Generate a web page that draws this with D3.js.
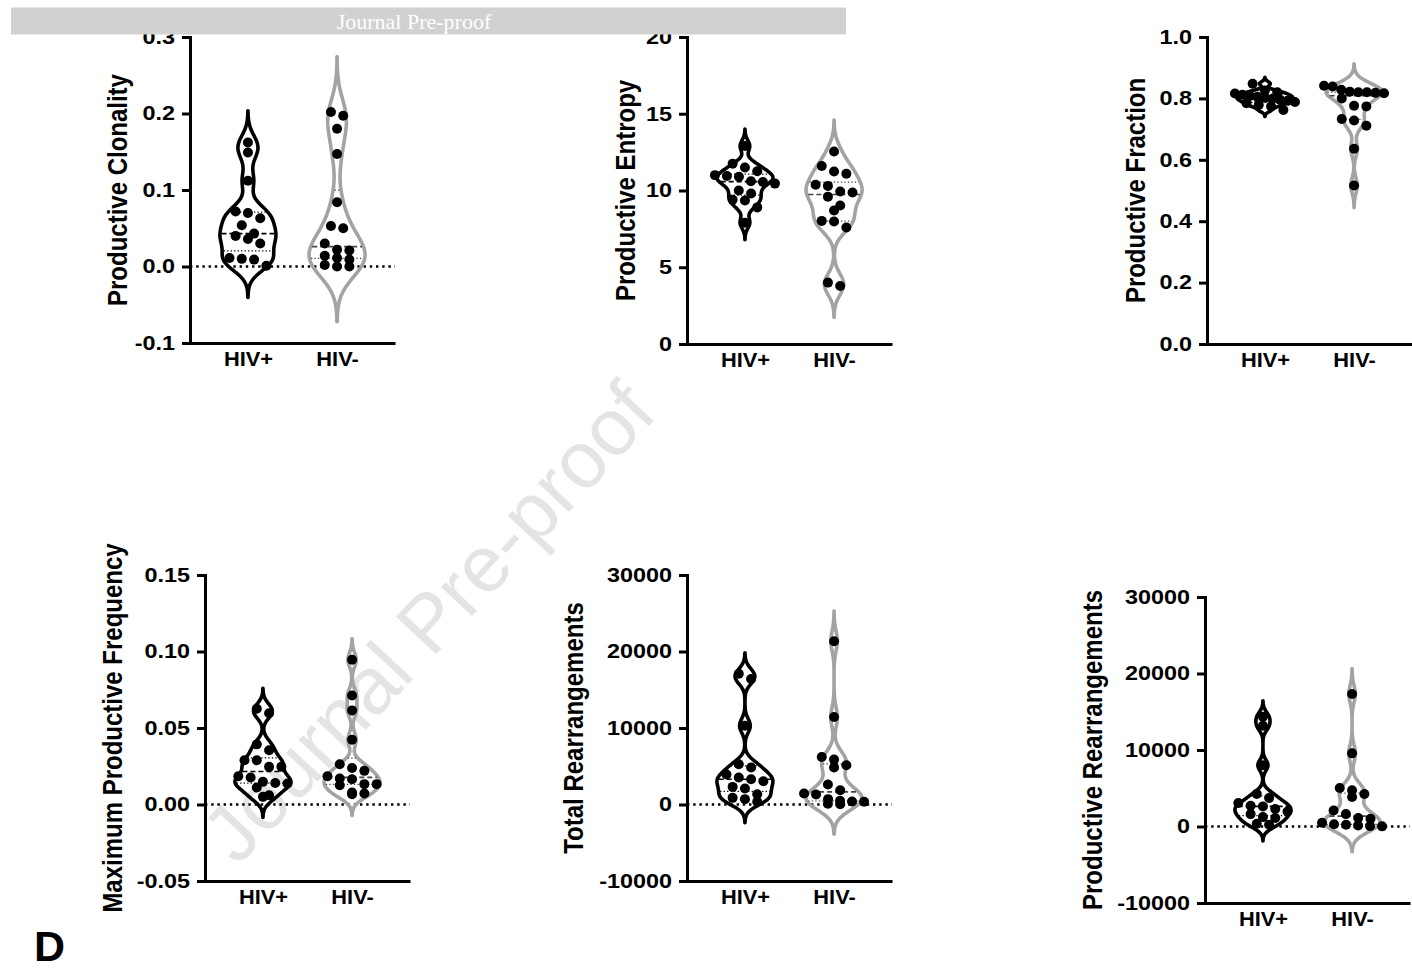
<!DOCTYPE html>
<html>
<head>
<meta charset="utf-8">
<script src="https://cdn.jsdelivr.net/npm/d3@7"></script>
<style>
  body { margin: 0; background: #fff; }
  svg text { font-family: "Liberation Sans", Arial, sans-serif; }
</style>
</head>
<body>
<svg id="chart" width="1412" height="970"></svg>
<script>
// groups on every x axis
var groups = ["HIV+", "HIV-"];

// values (one point per donor)
var clonalityHivPos = [0.162, 0.149, 0.112, 0.072, 0.070, 0.063, 0.054, 0.043, 0.040, 0.036, 0.030, 0.011, 0.010, 0.009, 0.001];
var clonalityHivNeg = [0.202, 0.197, 0.180, 0.147, 0.084, 0.053, 0.050, 0.030, 0.022, 0.021, 0.014, 0.011, 0.009, 0.002, 0.000, 0.000];
var clonalityTicks = [-0.1, 0, 0.1, 0.2, 0.3];

var entropyHivPos = [12.9, 11.75, 11.5, 11.25, 11.0, 10.95, 10.9, 10.6, 10.55, 10.45, 10.0, 9.8, 9.4, 9.35, 8.9, 7.9];
var entropyHivNeg = [12.54, 11.6, 11.24, 11.09, 10.37, 10.3, 9.93, 9.87, 9.6, 9.02, 8.7, 8.02, 7.98, 7.59, 4.0, 3.78];
var entropyTicks = [0, 5, 10, 15, 20];

var fractionHivPos = [0.848, 0.826, 0.820, 0.816, 0.812, 0.808, 0.805, 0.802, 0.799, 0.796, 0.792, 0.788, 0.784, 0.779, 0.774, 0.762];
var fractionHivNeg = [0.841, 0.839, 0.828, 0.822, 0.820, 0.820, 0.818, 0.817, 0.800, 0.776, 0.774, 0.733, 0.728, 0.711, 0.636, 0.516];
var fractionTicks = [0, 0.2, 0.4, 0.6, 0.8, 1.0];

var maxFreqHivPos = [0.0626, 0.0596, 0.0393, 0.0354, 0.0289, 0.0289, 0.0246, 0.0246, 0.0185, 0.0176, 0.0148, 0.0141, 0.0137, 0.0111, 0.0061, 0.0050];
var maxFreqHivNeg = [0.0946, 0.0713, 0.0615, 0.0424, 0.0263, 0.0239, 0.0220, 0.0185, 0.0170, 0.0165, 0.0133, 0.0133, 0.0126, 0.0078, 0.0072, 0.0067];
var maxFreqTicks = [-0.05, 0, 0.05, 0.10, 0.15];

var totalRearrHivPos = [17100, 16400, 10300, 5260, 4830, 3910, 3520, 3300, 3040, 2300, 2090, 1350, 870, 700, 350];
var totalRearrHivNeg = [21350, 11430, 6220, 5870, 5130, 4830, 2610, 1870, 1430, 1300, 700, 480, 400, 350, 100, 40];
var totalRearrTicks = [-10000, 0, 10000, 20000, 30000];

var prodRearrHivPos = [14340, 13160, 8000, 4250, 3730, 3070, 2720, 2630, 2280, 1970, 1620, 1230, 1100, 350, 220];
var prodRearrHivNeg = [17320, 9560, 5040, 4740, 4250, 3860, 2100, 1620, 1100, 1010, 500, 300, 220, 130, 50, 20];
var prodRearrTicks = [-10000, 0, 10000, 20000, 30000];

// panel placement (ax = y axis position, titleOff = distance of the axis title from it)
var panels = [
  {title: "Productive Clonality",         pos: clonalityHivPos,  neg: clonalityHivNeg,  ticks: clonalityTicks,  fmt: ".1f", ax: 190,  top: 37,  bottom: 343, titleOff: 73},
  {title: "Productive Entropy",           pos: entropyHivPos,    neg: entropyHivNeg,    ticks: entropyTicks,    fmt: "d",   ax: 687,  top: 37,  bottom: 344, titleOff: 62},
  {title: "Productive Fraction",          pos: fractionHivPos,   neg: fractionHivNeg,   ticks: fractionTicks,   fmt: ".1f", ax: 1207, top: 37,  bottom: 344, titleOff: 72},
  {title: "Maximum Productive Frequency", pos: maxFreqHivPos,    neg: maxFreqHivNeg,    ticks: maxFreqTicks,    fmt: ".2f", ax: 205,  top: 575, bottom: 881, titleOff: 93},
  {title: "Total Rearrangements",         pos: totalRearrHivPos, neg: totalRearrHivNeg, ticks: totalRearrTicks, fmt: "d",   ax: 687,  top: 575, bottom: 881, titleOff: 114},
  {title: "Productive Rearrangements",    pos: prodRearrHivPos,  neg: prodRearrHivNeg,  ticks: prodRearrTicks,  fmt: "d",   ax: 1205, top: 597, bottom: 903, titleOff: 113}
];

var axisLen = 205;      // length of the x axis
var halfWidth = 28;     // widest half of a violin
var dotR = 5;
var colStep = 12.3;     // spacing of the scatter columns
var rowH = 9;           // points closer than this share a row
var colors = ["#000000", "#a3a3a3"];
var lineColors = ["#000000", "#444444"];
var sx = 1.2;           // text in the figure is slightly wide

var svg = d3.select("#chart");

// watermark under everything
svg.append("text")
  .attr("transform", "translate(428,622) rotate(-47)")
  .attr("text-anchor", "middle")
  .attr("dy", "0.35em")
  .style("font-size", "80px")
  .style("fill", "#e4e4e4")
  .text("Journal Pre-proof");

// gaussian kernel density, bandwidth from a shrunken silverman rule
function kde(vals) {
  var s = vals.slice().sort(d3.ascending);
  var iqr = d3.quantile(s, 0.75) - d3.quantile(s, 0.25);
  var spread = Math.min(d3.deviation(s), iqr / 1.34);
  var h = 0.63 * spread * Math.pow(s.length, -0.2);
  var dens = function(v) {
    return d3.sum(s, function(x) { return Math.exp(-0.5 * Math.pow((v - x) / h, 2)); });
  };
  var lo = s[0] - 3 * h, hi = s[s.length - 1] + 3 * h;
  var grid = d3.range(0, 161).map(function(i) {
    var v = lo + (hi - lo) * i / 160;
    return [v, dens(v)];
  });
  return {grid: grid, dens: dens, sorted: s};
}

// points grouped into rows, each row centred on the group
function swarm(vals, y) {
  var pts = vals.map(function(v) { return {v: v, y: y(v)}; })
    .sort(function(a, b) { return a.y - b.y; });
  var rows = [], cur = null;
  pts.forEach(function(p) {
    if (!cur || p.y - cur[0].y > rowH) { cur = [p]; rows.push(cur); }
    else cur.push(p);
  });
  rows.forEach(function(r) {
    var m = r.length;
    var st = m > 1 ? Math.min(colStep, 2 * (halfWidth + 2) / (m - 1)) : 0;
    r.forEach(function(p, j) { p.off = (j - (m - 1) / 2) * st; });
  });
  return pts;
}

panels.forEach(function(p) {
  var g = svg.append("g");
  var y = d3.scaleLinear()
    .domain([p.ticks[0], p.ticks[p.ticks.length - 1]])
    .range([p.bottom, p.top]);
  var x = d3.scalePoint()
    .domain(groups)
    .range([p.ax, p.ax + axisLen])
    .padding(0.65);

  // dotted zero line
  if (p.ticks[0] < 0) {
    g.append("line")
      .attr("x1", p.ax).attr("x2", p.ax + axisLen)
      .attr("y1", y(0)).attr("y2", y(0))
      .attr("stroke", "#000")
      .attr("stroke-width", 2.6)
      .attr("stroke-dasharray", "2.4,3.8");
  }

  [p.pos, p.neg].forEach(function(vals, i) {
    var cx = x(groups[i]);
    var k = kde(vals);
    var w = d3.scaleLinear().domain([0, d3.max(k.grid, function(d) { return d[1]; })]).range([0, halfWidth]);

    var area = d3.area()
      .curve(d3.curveCatmullRom)
      .y(function(d) { return y(d[0]); })
      .x0(function(d) { return cx - w(d[1]); })
      .x1(function(d) { return cx + w(d[1]); });

    g.append("path")
      .attr("d", area(k.grid))
      .attr("fill", "none")
      .attr("stroke", colors[i])
      .attr("stroke-width", 3.6)
      .attr("stroke-linejoin", "round");

    // median dashed, quartiles dotted
    [[0.25, "1.3,2.2", 1.2], [0.5, "5,3", 1.6], [0.75, "1.3,2.2", 1.2]].forEach(function(q) {
      var v = d3.quantile(k.sorted, q[0]);
      var hw = w(k.dens(v)) - 1.5;
      g.append("line")
        .attr("x1", cx - hw).attr("x2", cx + hw)
        .attr("y1", y(v)).attr("y2", y(v))
        .attr("stroke", lineColors[i])
        .attr("stroke-width", q[2])
        .attr("stroke-dasharray", q[1]);
    });

    g.selectAll(null)
      .data(swarm(vals, y))
      .enter()
      .append("circle")
      .attr("cx", function(d) { return cx + d.off; })
      .attr("cy", function(d) { return d.y; })
      .attr("r", dotR)
      .attr("fill", "#000");
  });

  // y axis
  var fmt = d3.format(p.fmt);
  var yAxis = d3.axisLeft(y)
    .tickValues(p.ticks)
    .tickFormat(function(d) { return fmt(d).replace("\u2212", "-"); })
    .tickSize(8)
    .tickPadding(4.5)
    .tickSizeOuter(0);
  var ya = g.append("g").attr("transform", "translate(" + p.ax + ",0)").call(yAxis);
  ya.select(".domain").attr("stroke-width", 3).attr("stroke-linecap", "square");
  ya.selectAll(".tick line").attr("stroke-width", 3);
  ya.selectAll(".tick text")
    .attr("fill", "#000")
    .style("font-size", "19.5px")
    .style("font-weight", "bold")
    .attr("transform", "scale(" + sx + ",1)");

  // x axis
  var xAxis = d3.axisBottom(x).tickSize(0).tickPadding(9).tickSizeOuter(0);
  var xa = g.append("g").attr("transform", "translate(0," + p.bottom + ")").call(xAxis);
  xa.select(".domain").attr("stroke-width", 3);
  xa.selectAll(".tick text")
    .attr("fill", "#000")
    .style("font-size", "19.5px")
    .style("font-weight", "bold")
    .attr("transform", "scale(1.12,1)");

  // axis title
  g.append("text")
    .attr("transform", "translate(" + (p.ax - p.titleOff) + "," + ((p.top + p.bottom) / 2) + ") scale(1.18,1) rotate(-90)")
    .attr("text-anchor", "middle")
    .attr("dy", "0.35em")
    .style("font-size", "24px")
    .style("font-weight", "bold")
    .text(p.title);
});

// panel letter
svg.append("text")
  .attr("x", 34).attr("y", 961)
  .style("font-size", "43px")
  .style("font-weight", "bold")
  .text("D");

// journal banner on top
svg.append("rect")
  .attr("x", 11).attr("y", 7.5)
  .attr("width", 835).attr("height", 27)
  .attr("fill", "#d1d1d1");
svg.append("text")
  .attr("x", 414).attr("y", 28.5)
  .attr("text-anchor", "middle")
  .style("font-family", "'Liberation Serif', 'Times New Roman', serif")
  .style("font-size", "22px")
  .style("fill", "#fff")
  .text("Journal Pre-proof");
</script>
</body>
</html>
